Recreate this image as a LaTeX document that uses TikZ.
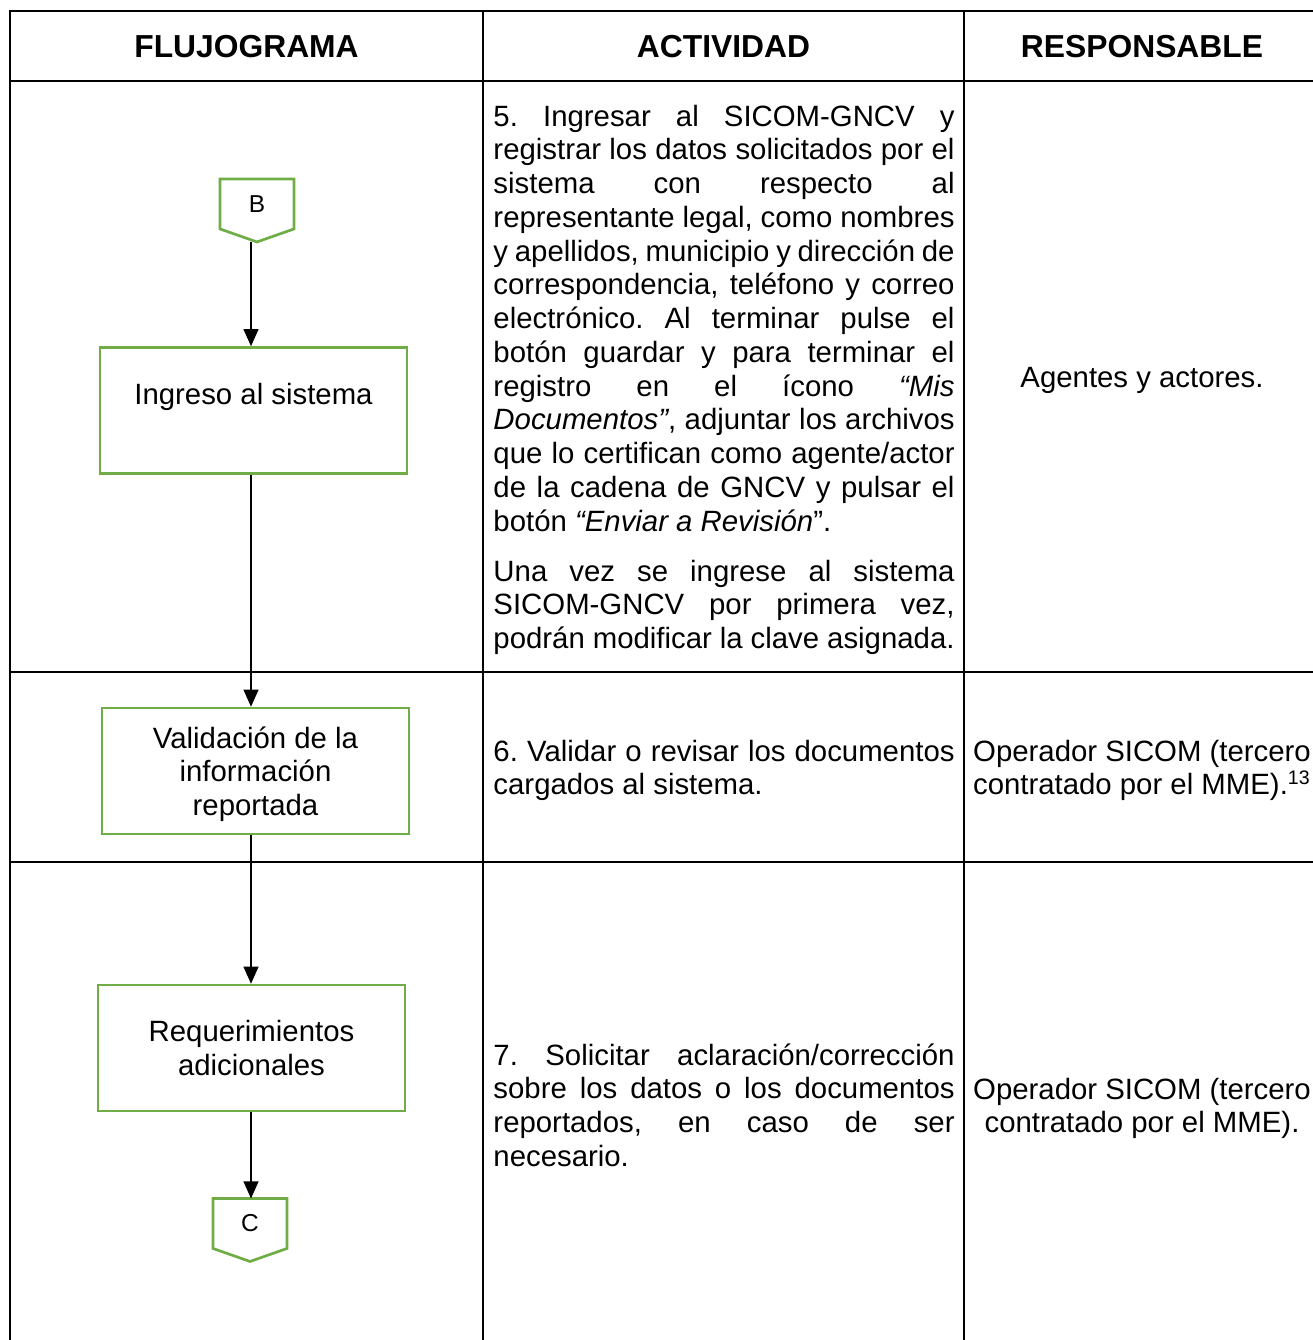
\documentclass[tikz,border=0pt]{standalone}
\usepackage{fontspec}
\setmainfont{Liberation Sans}
\usetikzlibrary{calc,arrows.meta}
\definecolor{verde}{RGB}{112,173,71}
\tolerance=10000
\hbadness=10000
\newcommand\justo{\leftskip=0pt\relax\rightskip=0pt\relax\parfillskip=0pt plus 1fil\relax
  \spaceskip=0pt\relax\xspaceskip=0pt\relax\parindent=0pt\relax\hyphenpenalty=10000\relax}
\begin{document}
\begin{tikzpicture}[x=0.4088pt,y=-0.4088pt,
  tabla/.style={line width=1.2pt},
  caja/.style={draw=verde,line width=1.1pt,minimum width=125.5pt,minimum height=51.4pt,
    inner sep=0pt,align=center,font=\fontsize{12}{13.8}\selectfont},
  conector/.style={minimum width=30.25pt,minimum height=20.4pt,inner sep=0pt,outer sep=0pt,
    font=\fontsize{10}{12}\selectfont},
  borde/.style={draw=verde,line width=1.1pt},
  flecha/.style={-{Triangle[length=7pt,width=6pt]},line width=0.9pt},
  titulo/.style={anchor=base,font=\fontsize{13}{15}\selectfont\bfseries},
  parrafo/.style={anchor=north west,inner sep=0pt,text width=188.5pt,
    font=\fontsize{12}{13.8}\selectfont\frenchspacing},
  resp/.style={anchor=north,inner sep=0pt,align=center,font=\fontsize{12}{13.8}\selectfont}]
\useasboundingbox (0,0) rectangle (1312,1340);

% tabla
\draw [tabla] (10,1350) -- (10,11) -- (1330,11);
\draw [tabla] (10,81) -- (1330,81);
\draw [tabla] (10,672) -- (1330,672);
\draw [tabla] (10,862) -- (1330,862);
\draw [tabla] (483,11) -- (483,1350);
\draw [tabla] (964,11) -- (964,1350);

\node [titulo] (hflujo) at (246.5,58) {FLUJOGRAMA};
\node [titulo] (hactiv) at (723.5,58) {ACTIVIDAD};
\node [titulo] (hresp) at (1142,58) {RESPONSABLE};

% flujograma
\coordinate (eje) at (251,0);

\node [conector] (B) at (257,204) {B};
\coordinate (Bpunta) at ($(B.south)+(0,13)$);
\draw [borde] (B.north west) -- (B.north east) -- (B.south east) -- (Bpunta) -- (B.south west) -- cycle;

\node [caja] (ing) at (253.5,410.5) {};
\node [anchor=base,inner sep=0pt,font=\fontsize{12}{13.8}\selectfont] (ingtxt) at (253.5,404) {Ingreso al sistema};

\node [caja,text depth=0pt] (val) at (255.5,771) {Validación de la\\información\\reportada};

\node [caja] (req) at (251.5,1048) {Requerimientos\\adicionales};

\node [conector] (C) at (250,1223.5) {C};
\coordinate (Cpunta) at ($(C.south)+(0,13)$);
\draw [borde] (C.north west) -- (C.north east) -- (C.south east) -- (Cpunta) -- (C.south west) -- cycle;

\draw [flecha] (Bpunta -| eje) -- (ing.north -| eje);
\draw [flecha] (ing.south -| eje) -- (val.north -| eje);
\draw [flecha] (val.south -| eje) -- (req.north -| eje);
\draw [flecha] (req.south -| eje) -- (C.north -| eje);

% actividad
\node [parrafo] (act5) at (493,102) {\justo\strut 5. Ingresar al SICOM-GNCV y\linebreak
registrar los datos solicitados por el\linebreak
sistema con respecto al\linebreak
representante legal, como nombres\linebreak
y apellidos, municipio y dirección de\linebreak
correspondencia, teléfono y correo\linebreak
electrónico. Al terminar pulse el\linebreak
botón guardar y para terminar el\linebreak
registro en el ícono {\itshape “Mis\linebreak
Documentos”}, adjuntar los archivos\linebreak
que lo certifican como agente/actor\linebreak
de la cadena de GNCV y pulsar el\linebreak
botón {\itshape “Enviar a Revisión}”.\par
\vskip6.6pt
Una vez se ingrese al sistema\linebreak
SICOM-GNCV por primera vez,\linebreak
podrán modificar la clave asignada.\par};

\node [parrafo] (act6) at (493,737) {\justo\strut 6. Validar o revisar los documentos\linebreak
cargados al sistema.\par};

\node [parrafo] (act7) at (493,1041) {\justo\strut 7. Solicitar aclaración/corrección\linebreak
sobre los datos o los documentos\linebreak
reportados, en caso de ser\linebreak
necesario.\par};

% responsable
\node [resp,anchor=base] (resp5) at (1142,387) {Agentes y actores.};
\node [resp] (resp6) at (1142,737) {\strut Operador SICOM (tercero\\contratado por el MME).\smash{\textsuperscript{13}}};
\node [resp] (resp7) at (1142,1075) {\strut Operador SICOM (tercero\\contratado por el MME).};

\end{tikzpicture}
\end{document}
